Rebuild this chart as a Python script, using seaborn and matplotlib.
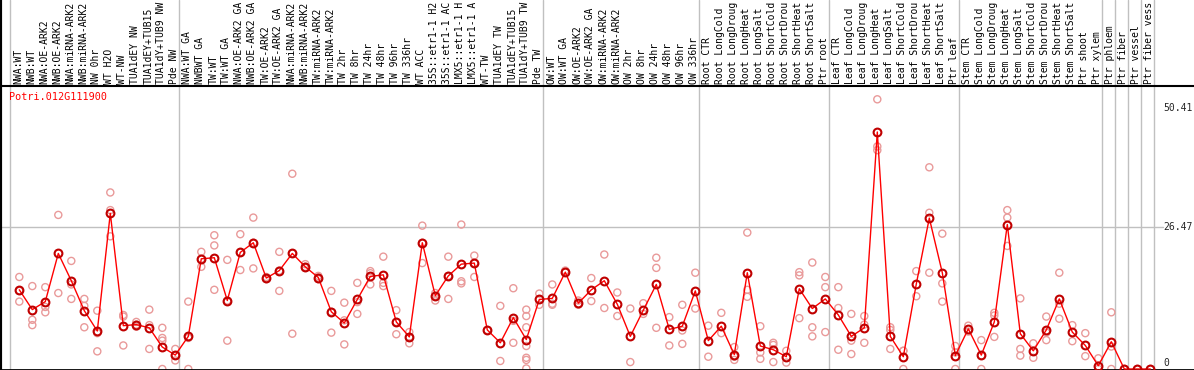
import numpy as np
import pandas as pd
import seaborn as sns
import matplotlib.pyplot as plt


# sample names (truncated to 14 chars like the source)
samples = [
    'NWA:WT', 'NWB:WT', 'NWA:OE-ARK2', 'NWB:OE-ARK2', 'NWA:miRNA-ARK2', 'NWB:miRNA-ARK2',
    'NW 0hr', 'WT H2O', 'WT-NW', 'TUA1dEY NW', 'TUA1dEY+TUB15', 'TUA1dY+TUB9 NW', 'Pde NW',
    'NWA:WT GA', 'NWBWT GA', 'TW:WT', 'TW:WT GA', 'NWA:OE-ARK2 GA', 'NWB:OE-ARK2 GA',
    'TW:OE-ARK2', 'TW:OE-ARK2 GA', 'NWA:miRNA-ARK2', 'NWB:miRNA-ARK2', 'TW:miRNA-ARK2',
    'TW:miRNA-ARK2', 'TW 2hr', 'TW 8hr', 'TW 24hr', 'TW 48hr', 'TW 96hr', 'TW 336hr',
    'WT ACC', '35S::etr1-1 H2', '35S::etr1-1 AC', 'LMX5::etr1-1 H', 'LMX5::etr1-1 A',
    'WT-TW', 'TUA1dEY TW', 'TUA1dEY+TUB15', 'TUA1dY+TUB9 TW', 'Pde TW',
    'OW:WT', 'OW:WT GA', 'OW:OE-ARK2', 'OW:OE-ARK2 GA', 'OW:miRNA-ARK2', 'OW:miRNA-ARK2',
    'OW 2hr', 'OW 8hr', 'OW 24hr', 'OW 48hr', 'OW 96hr', 'OW 336hr',
    'Root CTR', 'Root LongCold', 'Root LongDroug', 'Root LongHeat', 'Root LongSalt',
    'Root ShortCold', 'Root ShortDrou', 'Root ShortHeat', 'Root ShortSalt', 'Ptr root',
    'Leaf CTR', 'Leaf LongCold', 'Leaf LongDroug', 'Leaf LongHeat', 'Leaf LongSalt',
    'Leaf ShortCold', 'Leaf ShortDrou', 'Leaf ShortHeat', 'Leaf ShortSalt', 'Ptr leaf',
    'Stem CTR', 'Stem LongCold', 'Stem LongDroug', 'Stem LongHeat', 'Stem LongSalt',
    'Stem ShortCold', 'Stem ShortDrou', 'Stem ShortHeat', 'Stem ShortSalt', 'Ptr shoot',
    'Ptr xylem', 'Ptr phloem', 'Ptr fiber', 'Ptr vessel', 'Ptr fiber vess',
]

# mean expression per sample
means = [
    14.8, 11.1, 12.6, 21.6, 16.5, 10.9, 7.1, 29.1, 8.1, 8.3, 7.7, 4.1, 2.6,
    6.1, 20.6, 20.8, 12.8, 21.8, 23.6, 17.0, 18.4, 21.6, 19.1, 17.1, 10.7, 8.6,
    13.0, 17.3, 17.6, 8.8, 6.0, 23.6, 13.7, 17.4, 19.6, 19.8, 7.3, 4.9, 9.6, 5.5, 13.0,
    13.2, 18.1, 12.3, 14.8, 16.5, 12.1, 6.1, 11.0, 15.8, 7.4, 8.0, 14.6,
    5.3, 8.0, 2.7, 18.0, 4.3, 3.6, 2.3, 15.0, 11.3, 13.1,
    10.1, 6.1, 7.7, 44.3, 6.1, 2.3, 15.9, 28.2, 18.0, 2.5,
    7.5, 2.6, 8.8, 27.0, 6.6, 3.4, 7.3, 13.1, 6.9, 4.4,
    0.6, 5.1, 0.0, 0.0, 0.0,
]

# individual replicates per sample
replicates = [
    [17.2, 12.6, 14.6], [15.5, 9.2, 8.2], [15.3, 11.6, 10.6], [28.8, 14.2],
    [20.2, 15.8, 13.1], [13.1, 11.8, 7.8], [10.9, 6.7, 3.3], [33.0, 29.7, 24.8],
    [9.8, 10.1, 4.4], [8.8, 8.3, 7.9], [11.1, 8.2, 3.75], [7.7, 5.8, 5.3, 0.0],
    [3.75, 1.6, 2.6],
    [12.6, 5.8, 0.0], [21.9, 19.1, 20.6], [25.0, 23.1, 14.8], [20.4, 12.8, 5.3],
    [25.2, 18.5, 21.8], [28.3, 18.8, 23.6], [17.0, 17.2, 16.8], [21.9, 14.6, 18.4],
    [36.5, 6.6, 21.6], [19.6, 18.9, 19.1], [16.8, 17.1, 17.4], [14.6, 6.8, 10.7],
    [12.4, 9.1, 4.6], [16.1, 12.5, 10.3], [18.3, 17.9, 15.8], [21.0, 16.1, 15.5],
    [11.0, 6.5, 8.8], [6.9, 4.8, 6.0], [26.8, 19.8, 23.6], [14.2, 12.8, 13.7],
    [21.0, 13.1, 17.4], [27.0, 16.4, 16.0], [21.2, 17.2, 19.8], [7.3],
    [11.8, 1.5], [15.1, 4.9, 9.0], [11.1, 9.9, 7.8, 4.3, 2.1, 1.7, 0.1], [14.1, 12.0],
    [15.8, 12.0, 12.2], [18.4, 18.1], [12.8, 12.0], [17.0, 12.7], [21.4, 11.4],
    [14.3, 9.9], [11.3, 1.3], [12.3, 10.3], [20.8, 18.9, 7.7], [9.7, 4.4],
    [12.0, 7.2, 4.7], [18.0, 11.3],
    [8.1, 2.3], [10.5, 6.7], [4.1, 2.3, 1.7], [25.5, 14.8, 13.5], [8.0, 3.1, 1.9],
    [4.9, 1.3, 4.5], [1.2, 3.4], [18.1, 17.5, 9.5], [19.9, 7.8, 6.1], [17.2, 15.3, 6.9],
    [15.3, 11.4, 3.6], [10.3, 5.3, 2.8], [9.9, 4.9, 8.3], [50.41, 40.9, 41.6],
    [7.8, 7.3, 3.75], [3.4, 0.0, 3.4], [18.3, 13.6], [37.7, 29.2, 18.0],
    [25.3, 16.0, 12.6], [4.3, 0.0, 3.1],
    [8.1, 7.0], [5.4, 0.0, 2.5], [10.5, 6.0, 10.0], [29.7, 28.3, 23.0],
    [13.2, 3.75, 2.5], [4.8, 2.1], [9.8, 5.4, 6.8], [18.0, 9.4, 12.2], [8.2, 5.2],
    [6.7, 2.4], [2.0, 0.0], [10.6, 4.2, 0.0], [0.0, 0.0], [0.0], [0.0],
]

# group separators: number of samples before each vertical line
group_breaks = [0, 13, 41, 53, 63, 73, 84, 85, 86, 87, 88]

gene = 'Potri.012G111900'
y_ticks = [50.41, 26.47, 0]

pos = np.arange(len(samples))
rep_df = pd.DataFrame({
    'pos': [p for p, r in zip(pos, replicates) for _ in r],
    'value': [v for r in replicates for v in r],
})

sns.set_style('white')
plt.rcParams['font.family'] = ['DejaVu Sans Mono']

fig = plt.figure(figsize=(11.94, 3.70), dpi=100)
ax = fig.add_axes([0, 0, 1, 284 / 370])

# pixel mapping of the reference: 13 px per sample, 5.35 px per unit
px_x, px_y = 13.0, 5.35
ax.set_xlim(-19.3 / px_x, (1194 - 19.3) / px_x)
ax.set_ylim(-1 / px_y, 283 / px_y)
head = 370 / 284

for b in group_breaks:
    ax.axvline(b - 0.68, 0, head, color='#c0c0c0', lw=1, clip_on=False, zorder=1)
ax.plot([ax.get_xlim()[0], 88.0], [26.47, 26.47], color='#c0c0c0', lw=1, zorder=1)

sns.scatterplot(data=rep_df, x='pos', y='value', ax=ax, marker='o', s=26,
                linewidth=1, edgecolor='#e99a9a', zorder=2, legend=False)
ax.collections[-1].set_facecolor('none')

sns.lineplot(x=pos, y=means, ax=ax, color='red', lw=1, sort=False, estimator=None,
             marker='o', markersize=5.6, markerfacecolor='none',
             markeredgecolor='#c00000', markeredgewidth=1.5, zorder=3)

# sample labels in the header
lab_tr = ax.get_xaxis_transform()
for p, name in zip(pos, samples):
    ax.text(p - 0.08, 1 + 2 / 284, name, transform=lab_tr, rotation=90,
            ha='center', va='bottom', fontsize=7, color='black')

# value labels on the right
ax.text(88.0, y_ticks[0] - 0.7, '%.2f' % y_ticks[0], ha='left', va='top', fontsize=7)
ax.text(88.0, y_ticks[1], '%.2f' % y_ticks[1], ha='left', va='center', fontsize=7)
ax.text(88.0, y_ticks[2] + 0.2, '%g' % y_ticks[2], ha='left', va='bottom', fontsize=7)

ax.text(9.5 / 1194, 1 - 6 / 284, gene, transform=ax.transAxes, color='red',
        ha='left', va='top', fontsize=7.3)

ax.set_xticks([])
ax.set_yticks([])
ax.set_xlabel('')
ax.set_ylabel('')
ax.spines['right'].set_visible(False)
ax.spines['left'].set_visible(False)
ax.spines['top'].set_color('black')
ax.spines['top'].set_linewidth(1.5)
ax.spines['bottom'].set_color('black')
ax.spines['bottom'].set_linewidth(2)
ax.axvline(ax.get_xlim()[0], 0, head, color='black', lw=3, clip_on=False)

fig.savefig('out.png', dpi=100)
